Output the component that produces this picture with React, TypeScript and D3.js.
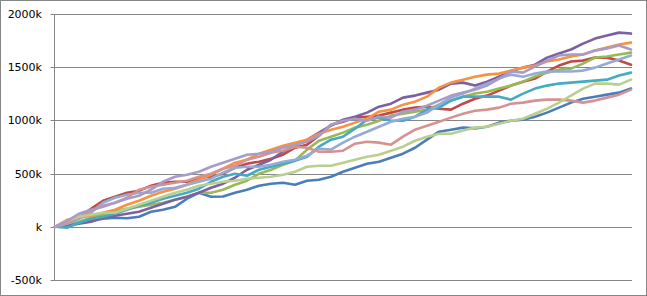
import React from "react";
import * as d3 from "d3";

const W = 647;
const H = 296;

const yTicks = [-500, 0, 500, 1000, 1500, 2000];
const yTickLabels = ["-500k", "k", "500k", "1000k", "1500k", "2000k"];

const seriesNames = ["S1", "S2", "S3", "S4", "S5", "S6", "S7", "S8", "S9", "S10"];
const seriesColors = ["#4A7EBB", "#BE4B48", "#98B954", "#7D60A0", "#46AAC5", "#F69240", "#94ABD6", "#D59291", "#BACE90", "#A99BC7"];

const blue = [0, 9, 38, 56, 75, 85, 80, 94, 141, 160, 188, 264, 320, 282, 285, 320, 348, 386, 405, 414, 395, 433, 442, 471, 518, 555, 593, 612, 649, 687, 743, 819, 894, 913, 932, 925, 941, 979, 997, 1007, 1035, 1073, 1120, 1167, 1204, 1223, 1242, 1261, 1299];
const red = [0, 28, 85, 169, 245, 282, 320, 339, 386, 414, 423, 423, 461, 471, 499, 555, 593, 612, 640, 678, 743, 772, 856, 960, 988, 1026, 1035, 1045, 1073, 1101, 1120, 1129, 1110, 1101, 1157, 1204, 1233, 1280, 1327, 1364, 1393, 1459, 1515, 1553, 1562, 1590, 1590, 1562, 1524];
const green = [0, 19, 47, 85, 113, 151, 169, 188, 207, 226, 254, 282, 320, 320, 348, 395, 433, 499, 536, 583, 621, 725, 809, 847, 885, 932, 960, 997, 1045, 1063, 1082, 1101, 1148, 1186, 1223, 1252, 1270, 1299, 1327, 1364, 1412, 1449, 1477, 1487, 1534, 1590, 1600, 1619, 1637];
const purple = [0, 9, 28, 47, 85, 103, 122, 141, 179, 216, 254, 282, 320, 367, 405, 461, 536, 583, 630, 706, 762, 818, 885, 951, 1007, 1035, 1073, 1129, 1157, 1214, 1233, 1261, 1289, 1346, 1355, 1327, 1364, 1411, 1459, 1496, 1524, 1590, 1628, 1666, 1722, 1769, 1797, 1825, 1816];
const aqua = [0, -9, 38, 75, 94, 122, 160, 198, 226, 263, 292, 320, 358, 423, 471, 499, 480, 536, 565, 593, 621, 659, 753, 819, 847, 922, 1007, 1026, 997, 997, 1035, 1101, 1120, 1186, 1223, 1223, 1223, 1223, 1195, 1252, 1299, 1327, 1346, 1355, 1364, 1374, 1383, 1421, 1449];
const orange = [0, 66, 85, 103, 132, 160, 207, 245, 292, 329, 358, 395, 442, 489, 546, 602, 630, 687, 725, 762, 791, 819, 875, 913, 941, 979, 1016, 1082, 1101, 1148, 1176, 1223, 1308, 1355, 1383, 1411, 1430, 1440, 1468, 1496, 1515, 1553, 1572, 1600, 1619, 1656, 1684, 1713, 1731];
const lightBlue = [0, 28, 75, 132, 226, 273, 301, 320, 320, 358, 367, 395, 423, 452, 508, 555, 565, 565, 583, 612, 630, 668, 734, 725, 791, 847, 894, 941, 988, 1016, 1035, 1073, 1148, 1214, 1252, 1299, 1346, 1393, 1430, 1411, 1440, 1459, 1459, 1459, 1468, 1496, 1534, 1572, 1609];
const pink = [0, 38, 94, 151, 198, 226, 273, 348, 376, 395, 414, 433, 471, 499, 546, 574, 630, 659, 696, 715, 753, 743, 706, 706, 715, 781, 800, 791, 772, 847, 913, 950, 988, 1026, 1063, 1091, 1101, 1120, 1157, 1167, 1186, 1195, 1195, 1186, 1167, 1186, 1214, 1242, 1289];
const lightGreen = [0, 56, 94, 113, 132, 132, 169, 207, 245, 282, 320, 348, 386, 405, 423, 433, 452, 461, 471, 489, 518, 565, 574, 574, 602, 630, 659, 678, 715, 753, 809, 847, 875, 875, 904, 932, 941, 969, 997, 1016, 1063, 1110, 1167, 1233, 1299, 1346, 1346, 1336, 1383];
const lightPurple = [0, 56, 122, 160, 188, 226, 263, 292, 348, 423, 471, 489, 518, 565, 602, 640, 677, 687, 706, 743, 772, 800, 856, 960, 997, 1016, 997, 1035, 1026, 1082, 1101, 1138, 1186, 1233, 1261, 1289, 1327, 1393, 1459, 1449, 1506, 1562, 1610, 1619, 1619, 1656, 1675, 1703, 1666];

const seriesData = [blue, red, green, purple, aqua, orange, lightBlue, pink, lightGreen, lightPurple];

export default function App() {
  const plotLeft = 54.5;
  const plotRight = 632;
  const y = d3.scaleLinear().domain([-500, 2000]).range([280, 14]);

  return (
    <svg width={W} height={H} style={{ position: "absolute", left: 0, top: 0, background: "#fff" }}>
      <rect x={0.5} y={0.5} width={W - 1} height={H - 1} fill="#fff" stroke="#868686" strokeWidth={1} />
      {yTicks.map((t, i) => {
        const yy = Math.round(y(t)) + 0.5;
        return (
          <g key={t}>
            <line x1={plotLeft - 4} x2={plotRight} y1={yy} y2={yy} stroke="#868686" strokeWidth={1} />
            <text
              x={42}
              y={yy}
              dy="0.35em"
              textAnchor="end"
              fontFamily="DejaVu Sans, Verdana, sans-serif"
              fontSize={11}
              fill="#000"
            >
              {yTickLabels[i]}
            </text>
          </g>
        );
      })}
      <line x1={plotLeft} x2={plotLeft} y1={Math.round(y(2000)) + 0.5} y2={Math.round(y(-500)) + 0.5} stroke="#868686" strokeWidth={1} />
      {seriesData.map((data, si) => {
        const x = d3.scaleLinear().domain([0, data.length - 1]).range([55, 631]);
        const line = d3
          .line<number>()
          .x((_, i) => x(i))
          .y((d) => y(d));
        return (
          <path
            key={seriesNames[si]}
            d={line(data) || ""}
            fill="none"
            stroke={seriesColors[si]}
            strokeWidth={2.6}
            strokeLinejoin="round"
            strokeLinecap="round"
          />
        );
      })}
    </svg>
  );
}
